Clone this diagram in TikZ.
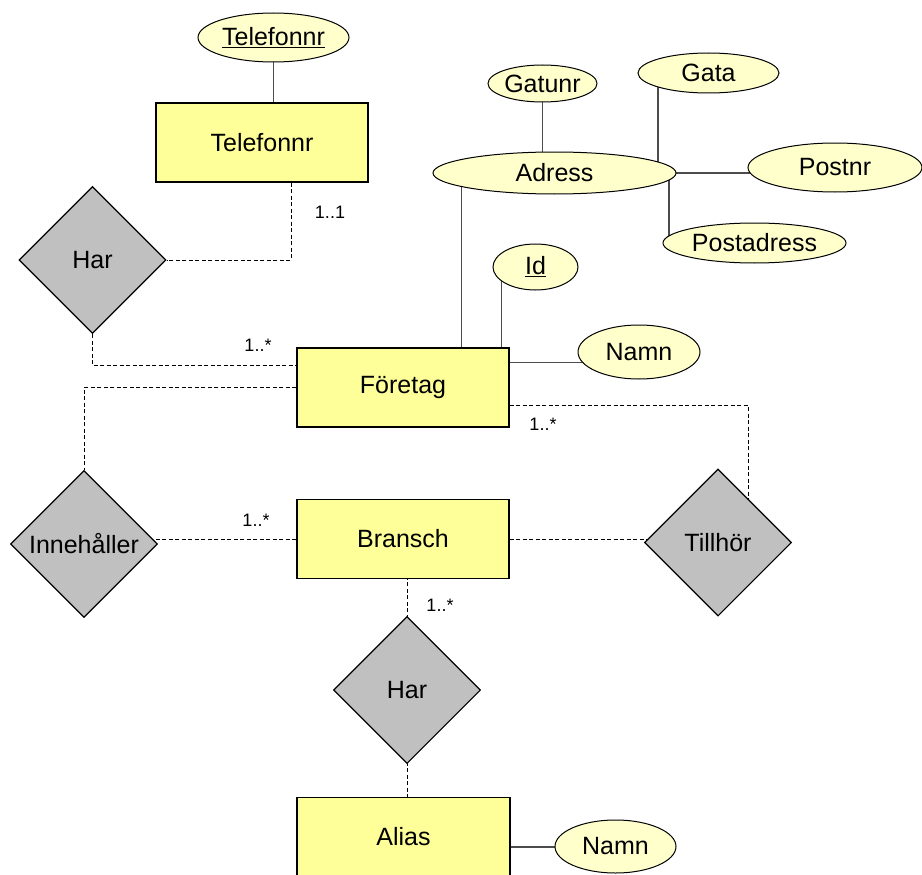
\documentclass[tikz,border=0pt]{standalone}
\usepackage{fontspec}
\setmainfont{Liberation Sans}
\usetikzlibrary{shapes.geometric,calc,backgrounds}
\definecolor{entfill}{HTML}{FFFF99}
\definecolor{attfill}{HTML}{FFFFCC}
\definecolor{relfill}{HTML}{C0C0C0}
\begin{document}
\begin{tikzpicture}[x=1pt,y=-1pt,
  every node/.style={font=\fontsize{25pt}{30pt}\selectfont, inner sep=0pt},
  entity/.style={rectangle, draw=black, line width=1.3pt, fill=entfill,
                 minimum width=212pt, minimum height=79pt},
  attr/.style={ellipse, draw=black, line width=1pt, fill=attfill},
  rel/.style={diamond, draw=black, line width=1.1pt, fill=relfill,
              minimum width=147pt, minimum height=147pt},
  card/.style={font=\fontsize{18pt}{20pt}\selectfont},
  attline/.style={draw=black!70, line width=1.1pt},
  relline/.style={draw=black, line width=0.8pt, dash pattern=on 4pt off 2.5pt}]
\useasboundingbox (0,0) rectangle (922,875);

% entities
\node[entity] (telbox)  at (262,142.5) {Telefonnr};
\node[entity] (foretag) at (403,387.5) {Företag};
\node[entity] (bransch) at (403,539)   {Bransch};
\node[entity, minimum width=213pt] (alias) at (403.5,837) {Alias};

% relationships
\node[rel] (har1)   at (92.5,260)  {Har};
\node[rel] (inneh)  at (84,544)    {Innehåller};
\node[rel] (tillhor) at (718,542.5) {Tillhör};
\node[rel] (har2)   at (407,690)   {Har};

% attributes
\node[attr, minimum width=151pt, minimum height=49pt] (telattr) at (273.5,37.5) {\underline{Telefonnr}};
\node[attr, minimum width=109pt, minimum height=37pt] (gatunr) at (542.5,83.5) {Gatunr};
\node[attr, minimum width=141pt, minimum height=40pt] (gata) at (708.5,73) {Gata};
\node[attr, minimum width=243pt, minimum height=42pt] (adress) at (554.5,173) {Adress};
\node[attr, minimum width=174pt, minimum height=49pt] (postnr) at (835,167.5) {Postnr};
\node[attr, minimum width=183pt, minimum height=40pt] (postadress) at (754.5,243) {Postadress};
\node[attr, minimum width=85pt, minimum height=46pt] (id) at (535.5,267) {\underline{Id}};
\node[attr, minimum width=122pt, minimum height=54pt] (namn1) at (639,352) {Namn};
\node[attr, minimum width=121pt, minimum height=53pt] (namn2) at (615.5,846.5) {Namn};

% cardinalities
\node[card] (c1) at (330,212) {1..1};
\node[card] (c2) at (258,345) {1..*};
\node[card] (c3) at (256,520) {1..*};
\node[card] (c4) at (543,424) {1..*};
\node[card] (c5) at (440,605) {1..*};

% junction points
\coordinate (gx)  at ($(adress.center)+(103.5,0)$);
\coordinate (px)  at ($(adress.center)+(114.5,0)$);
\coordinate (ax)  at ($(foretag.north west)+(165,0)$);
\coordinate (ix)  at ($(foretag.north west)+(205,0)$);
\coordinate (nx)  at ($(foretag.north east)+(0,15)$);
\coordinate (tx)  at ($(telbox.south)+(29,0)$);
\coordinate (hx)  at ($(foretag.north west)+(0,18)$);
\coordinate (fx)  at ($(foretag.east)+(0,17.5)$);
\coordinate (tv)  at ($(tillhor.center)+(30,0)$);
\coordinate (an)  at ($(alias.east)+(0,10)$);

\begin{scope}[on background layer]
  % attribute links
  \draw[attline] (telattr.center) -- (telattr.center |- telbox.north);
  \draw[attline] (gatunr.center) -- (gatunr.center |- adress.center);
  \draw[attline] (gx |- gata.center) -- (gx);
  \draw[attline] (adress.center) -- (postnr.center |- adress.center);
  \draw[attline] (px) -- (px |- postadress.center);
  \draw[attline] (ax) -- (ax |- adress.center);
  \draw[attline] (ix) -- (ix |- id.center);
  \draw[attline] (nx) -- (nx -| namn1.center);
  \draw[attline] (an) -- (an -| namn2.center);
  % relationship links
  \draw[relline] (tx) |- (har1.east);
  \draw[relline] (har1.south) |- (hx);
  \draw[relline] (foretag.west) -| (inneh.north);
  \draw[relline] (bransch.west) -- (bransch.west -| inneh.center);
  \draw[relline] (bransch.east) -- (bransch.east -| tillhor.center);
  \draw[relline] (fx) -| (tv);
  \draw[relline] (har2.center) -- (har2.center |- bransch.south);
  \draw[relline] (har2.center) -- (har2.center |- alias.north);
\end{scope}
\end{tikzpicture}
\end{document}
